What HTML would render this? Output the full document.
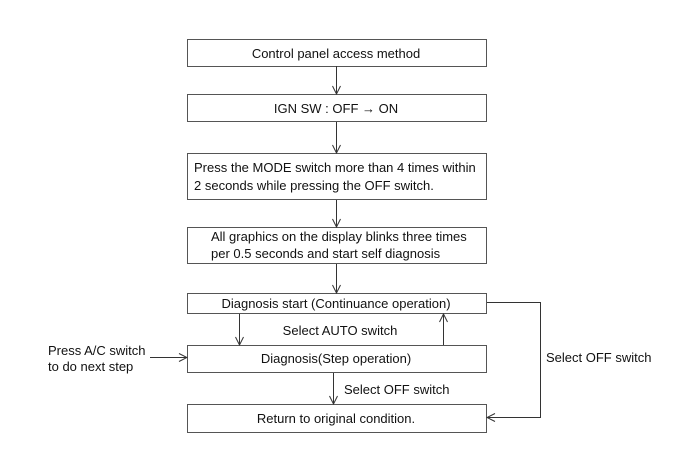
<!DOCTYPE html>
<html><head><style>
body{margin:0;background:#fff;}
svg text{font-family:"Liberation Sans",Arial,sans-serif;font-size:13px;fill:#111;}
</style></head><body>
<svg width="700" height="471" viewBox="0 0 700 471" xmlns="http://www.w3.org/2000/svg">
<defs><marker id="a" markerWidth="10" markerHeight="10" refX="9" refY="5" orient="auto" markerUnits="userSpaceOnUse"><path d="M1,1 L9,5 L1,9" fill="none" stroke="#333" stroke-width="1"/></marker></defs>
<g fill="#fff" stroke="#555" stroke-width="1">
<rect x="187.5" y="39.5" width="299" height="27"/>
<rect x="187.5" y="94.5" width="299" height="27"/>
<rect x="187.5" y="153.5" width="299" height="46"/>
<rect x="187.5" y="227.5" width="299" height="36"/>
<rect x="187.5" y="293.5" width="299" height="20"/>
<rect x="187.5" y="345.5" width="299" height="27"/>
<rect x="187.5" y="404.5" width="299" height="28"/>
</g>
<g stroke="#333" stroke-width="1" fill="none" marker-end="url(#a)">
<line x1="336.5" y1="66" x2="336.5" y2="94"/>
<line x1="336.5" y1="122" x2="336.5" y2="153"/>
<line x1="336.5" y1="200" x2="336.5" y2="227"/>
<line x1="336.5" y1="264" x2="336.5" y2="293"/>
<line x1="239.5" y1="314" x2="239.5" y2="345"/>
<line x1="443.5" y1="345" x2="443.5" y2="314"/>
<line x1="333.5" y1="373" x2="333.5" y2="404"/>
<line x1="150" y1="357.5" x2="187" y2="357.5"/>
<polyline points="487,302.5 540.5,302.5 540.5,417.5 487,417.5"/>
</g>
<text x="336" y="58" text-anchor="middle">Control panel access method</text>
<text x="336" y="113" text-anchor="middle">IGN SW : OFF → ON</text>
<text x="194" y="172">Press the MODE switch more than 4 times within</text>
<text x="194" y="190">2 seconds while pressing the OFF switch.</text>
<text x="211" y="241">All graphics on the display blinks three times</text>
<text x="211" y="258">per 0.5 seconds and start self diagnosis</text>
<text x="336" y="308" text-anchor="middle">Diagnosis start (Continuance operation)</text>
<text x="340" y="335" text-anchor="middle">Select AUTO switch</text>
<text x="336" y="363" text-anchor="middle">Diagnosis(Step operation)</text>
<text x="344" y="394">Select OFF switch</text>
<text x="336" y="423" text-anchor="middle">Return to original condition.</text>
<text x="48" y="355">Press A/C switch</text>
<text x="48" y="371">to do next step</text>
<text x="546" y="362">Select OFF switch</text>
</svg>
</body></html>
